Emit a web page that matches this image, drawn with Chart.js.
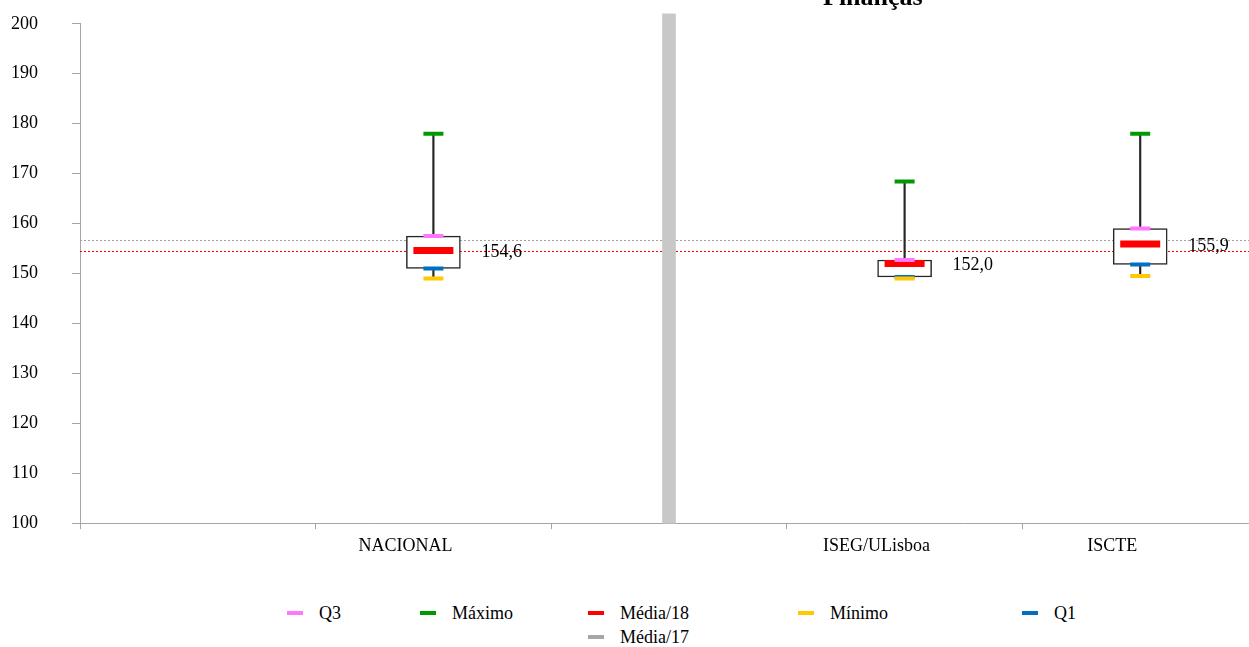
<!DOCTYPE html>
<html>
<head>
    <meta charset="UTF-8">
    <title>Finanças</title>
    <script src="https://cdn.jsdelivr.net/npm/chart.js"></script>
    <style>
        body { margin: 0; overflow: hidden; background: #fff; font-family: "Liberation Serif", "Times New Roman", serif; }
        #wrap { position: relative; width: 1249px; height: 647px; overflow: hidden; }
        #box { position: absolute; left: 0; top: -21px; width: 1258px; height: 589px; }
        #title { position: absolute; top: -16px; left: 823px; font-size: 26px; line-height: 26px; font-weight: bold; white-space: nowrap; }
        .lg { position: absolute; font-size: 18px; line-height: 20px; white-space: nowrap; }
        .lg i { display: inline-block; width: 16px; height: 4px; vertical-align: middle; margin-right: 16px; position: relative; top: -2px; }
    </style>
</head>
<body>
<div id="wrap">
    <div id="box"><canvas id="chart"></canvas></div>
    <div id="title">Finanças</div>
    <div id="legend"></div>
</div>
<script>
    // dados
    const categories = ['', 'NACIONAL', '', 'ISEG/ULisboa', 'ISCTE'];
    const minimo  = [null, 149.0, null, 149.0, 149.5];
    const q1      = [null, 151.0, null, 149.3, 151.8];
    const media18 = [null, 154.6, null, 152.0, 155.9];
    const q3      = [null, 157.5, null, 152.7, 159.0];
    const maximo  = [null, 178.0, null, 168.4, 178.0];
    const media17Ref = 156.7;   // linha cinzenta
    const media18Ref = 154.6;   // linha vermelha
    const separator = [null, null, [100, 202], null, null];
    const yTicks = { min: 100, max: 200, step: 10 };

    const boxData = categories.map((c, i) => q1[i] == null ? null : [q1[i], q3[i]]);
    const whiskerData = categories.map((c, i) => minimo[i] == null ? null : [minimo[i], maximo[i]]);

    const cores = { q3: '#ff77ff', max: '#009a00', media18: '#ff0000', min: '#ffc800', q1: '#0070c0', media17: '#a6a6a6' };
    const serif = '"Liberation Serif", "Times New Roman", serif';

    function marker(label, data, color, r, w) {
        return {
            type: 'line', label: label, data: data, showLine: false, order: 1,
            pointStyle: 'line', pointRadius: r, pointHoverRadius: r,
            pointBorderWidth: w, pointHoverBorderWidth: w,
            pointBorderColor: color, borderColor: color, backgroundColor: color
        };
    }

    // linhas de referência (médias) de ponta a ponta
    const refLines = {
        id: 'refLines',
        beforeDatasetsDraw(chart) {
            const { ctx, chartArea, scales } = chart;
            const linhas = [[media17Ref, '#a0a0a0'], [media18Ref, '#ff0000']];
            ctx.save();
            ctx.lineWidth = 1;
            ctx.setLineDash([2, 2]);
            linhas.forEach(([v, c]) => {
                const y = Math.round(scales.y.getPixelForValue(v)) + 0.5;
                ctx.strokeStyle = c;
                ctx.beginPath();
                ctx.moveTo(chartArea.left, y);
                ctx.lineTo(chartArea.right, y);
                ctx.stroke();
            });
            ctx.restore();
        }
    };

    // rótulos da média
    const valueLabels = {
        id: 'valueLabels',
        afterDatasetsDraw(chart) {
            const meta = chart.getDatasetMeta(4);
            const ctx = chart.ctx;
            ctx.save();
            ctx.font = '18px ' + serif;
            ctx.fillStyle = '#000';
            ctx.textAlign = 'left';
            ctx.textBaseline = 'middle';
            meta.data.forEach((el, i) => {
                if (media18[i] == null) return;
                ctx.fillText(media18[i].toFixed(1).replace('.', ','), el.x + 48, el.y + 2);
            });
            ctx.restore();
        }
    };

    const chart = new Chart(document.getElementById('chart'), {
        type: 'bar',
        data: {
            labels: categories,
            datasets: [
                marker('Q3', q3, cores.q3, 10, 4),
                marker('Máximo', maximo, cores.max, 10, 4),
                marker('Mínimo', minimo, cores.min, 10, 4),
                marker('Q1', q1, cores.q1, 10, 4),
                marker('Média/18', media18, cores.media18, 20, 7),
                { label: 'box', data: boxData, grouped: false, barThickness: 54, order: 5,
                  backgroundColor: '#ffffff', borderColor: '#262626', borderWidth: 1.5, borderSkipped: false },
                { label: 'whisker', data: whiskerData, grouped: false, barThickness: 1.5, order: 6,
                  backgroundColor: '#262626', borderWidth: 0 },
                { label: 'sep', data: separator, grouped: false, barThickness: 13, order: 10, clip: false,
                  backgroundColor: '#c8c8c8', borderWidth: 0 }
            ]
        },
        options: {
            responsive: true,
            maintainAspectRatio: false,
            animation: false,
            layout: { autoPadding: false, padding: { top: 23, left: 0, right: 0, bottom: 0 } },
            plugins: { legend: { display: false }, tooltip: { enabled: false } },
            scales: {
                x: {
                    type: 'category',
                    offset: true,
                    grid: { offset: true, drawOnChartArea: false, tickLength: 6, color: '#a6a6a6' },
                    border: { color: '#a6a6a6' },
                    ticks: { color: '#000', font: { family: serif, size: 18 }, padding: 6, labelOffset: -28, maxRotation: 0, autoSkip: false },
                    afterFit(s) { s.height = 37; }
                },
                y: {
                    min: yTicks.min, max: yTicks.max,
                    grid: { drawOnChartArea: false, tickLength: 8, color: '#a6a6a6' },
                    border: { color: '#a6a6a6' },
                    ticks: { stepSize: yTicks.step, color: '#000', font: { family: serif, size: 18 }, padding: 34 },
                    afterFit(s) { s.width = 80; }
                }
            }
        },
        plugins: [refLines, valueLabels]
    });

    // legenda
    const legendItems = [
        ['Q3', cores.q3], ['Máximo', cores.max], ['Média/18', cores.media18],
        ['Mínimo', cores.min], ['Q1', cores.q1], ['Média/17', cores.media17]
    ];
    const legendPos = [[287, 603], [420, 603], [588, 603], [798, 603], [1022, 603], [588, 627]];
    const lg = document.getElementById('legend');
    legendItems.forEach((it, i) => {
        const d = document.createElement('div');
        d.className = 'lg';
        d.style.left = legendPos[i][0] + 'px';
        d.style.top = legendPos[i][1] + 'px';
        d.innerHTML = '<i style="background:' + it[1] + '"></i>' + it[0];
        lg.appendChild(d);
    });
</script>
</body>
</html>
